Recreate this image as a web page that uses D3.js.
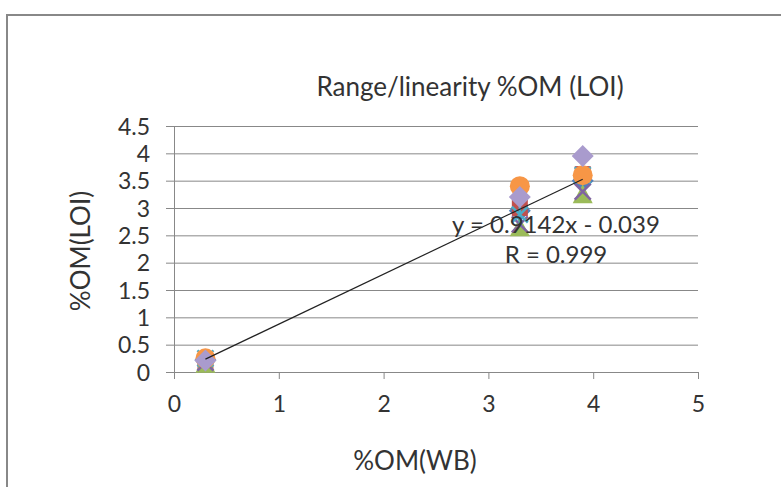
<!DOCTYPE html>
<html>
<head>
<meta charset="utf-8">
<script src="https://cdn.jsdelivr.net/npm/d3@7"></script>
<style>
body { margin: 0; background: #fff; }
text { font-family: Lato, "Open Sans", sans-serif; fill: #333; }
</style>
</head>
<body>
<div id="chart"></div>
<script>
var svgWidth = 781;
var svgHeight = 487;

// data
var xValues = [0.3, 3.3, 3.9];
var seriesBlue = [0.22, 2.95, 3.5];
var seriesRed = [0.2, 3.0, 3.62];
var seriesGreen = [0.15, 2.65, 3.25];
var seriesPurple = [0.17, 2.7, 3.3];
var seriesCyan = [0.25, 2.88, 3.6];
var seriesOrange = [0.25, 3.4, 3.6];
var seriesLavender = [0.21, 3.2, 3.95];
var xTicks = [0, 1, 2, 3, 4, 5];
var yTicks = [0, 0.5, 1, 1.5, 2, 2.5, 3, 3.5, 4, 4.5];
var slope = 0.9142, intercept = -0.039;

var series = [
    { vals: seriesBlue, color: "#4F81BD", shape: "diamond" },
    { vals: seriesRed, color: "#C0504D", shape: "square" },
    { vals: seriesGreen, color: "#9BBB59", shape: "triangle" },
    { vals: seriesPurple, color: "#8064A2", shape: "x" },
    { vals: seriesCyan, color: "#4BACC6", shape: "star" },
    { vals: seriesOrange, color: "#F79646", shape: "circle" },
    { vals: seriesLavender, color: "#A99BCD", shape: "diamond" }
];

var margin = { top: 126, left: 174 };
var chartWidth = 524;
var chartHeight = 246;

var svg = d3.select("#chart").append("svg")
    .attr("width", svgWidth)
    .attr("height", svgHeight);

// outer frame
svg.append("rect")
    .attr("x", 7).attr("y", 15)
    .attr("width", 800).attr("height", 500)
    .attr("fill", "white")
    .attr("stroke", "#888").attr("stroke-width", 2);

var x = d3.scaleLinear().domain([0, 5]).range([0, chartWidth]);
var y = d3.scaleLinear().domain([0, 4.5]).range([chartHeight, 0]);

var g = svg.append("g").attr("transform", `translate(${margin.left},${margin.top})`);

// gridlines
g.selectAll(".grid").data(yTicks.slice(1)).enter().append("line")
    .attr("x1", 0).attr("x2", chartWidth)
    .attr("y1", d => y(d) + 0.5).attr("y2", d => y(d) + 0.5)
    .attr("stroke", "#888").attr("stroke-width", 1);

var yAxis = g.append("g")
    .call(d3.axisLeft(y).tickValues(yTicks).tickSize(8).tickPadding(16).tickFormat(d3.format("")));
var xAxis = g.append("g").attr("transform", `translate(0,${chartHeight})`)
    .call(d3.axisBottom(x).tickValues(xTicks).tickSize(7).tickPadding(21).tickFormat(d3.format("")));

[xAxis, yAxis].forEach(a => {
    a.select(".domain").attr("stroke", "#888");
    a.selectAll(".tick line").attr("stroke", "#888");
    a.selectAll(".tick text").style("font-size", "23px").attr("fill", "#222");
});
yAxis.selectAll(".tick text").attr("dy", "0.36em");
xAxis.selectAll(".tick text").attr("dy", "0.5em");

// markers
function drawMarker(sel, shape, color) {
    var s = 10;
    if (shape === "circle") {
        sel.append("circle").attr("r", s).attr("fill", color);
    } else if (shape === "square") {
        sel.append("rect").attr("x", -8).attr("y", -8).attr("width", 16).attr("height", 16).attr("fill", color);
    } else if (shape === "diamond") {
        sel.append("path").attr("d", `M0,${-s - 1}L${s + 1},0L0,${s + 1}L${-s - 1},0Z`).attr("fill", color);
    } else if (shape === "triangle") {
        sel.append("path").attr("d", `M0,${-s}L${s},${s - 1}L${-s},${s - 1}Z`).attr("fill", color);
    } else if (shape === "x") {
        sel.append("path").attr("d", `M${-8},${-8}L8,8M8,${-8}L${-8},8`).attr("stroke", color).attr("stroke-width", 2.5);
    } else if (shape === "star") {
        sel.append("path").attr("d", `M${-8},${-8}L8,8M8,${-8}L${-8},8M0,${-9}L0,9`).attr("stroke", color).attr("stroke-width", 2.5);
    }
}

series.forEach(function (s) {
    g.selectAll(null).data(s.vals).enter().append("g")
        .attr("transform", (d, i) => `translate(${x(xValues[i])},${y(d)})`)
        .each(function () { drawMarker(d3.select(this), s.shape, s.color); });
});

// trendline
var xMin = d3.min(xValues), xMax = d3.max(xValues);
g.append("line")
    .attr("x1", x(xMin)).attr("y1", y(slope * xMin + intercept))
    .attr("x2", x(xMax)).attr("y2", y(slope * xMax + intercept))
    .attr("stroke", "#222").attr("stroke-width", 1.2);

svg.append("text").attr("x", 556).attr("y", 233).attr("text-anchor", "middle")
    .style("font-size", "24px").attr("fill", "#222").text("y = 0.9142x - 0.039");
svg.append("text").attr("x", 556).attr("y", 263).attr("text-anchor", "middle")
    .style("font-size", "24px").attr("fill", "#222").text("R = 0.999");

// titles
svg.append("text").attr("x", 470).attr("y", 96).attr("text-anchor", "middle")
    .style("font-size", "26px").attr("fill", "#222").text("Range/linearity %OM (LOI)");
svg.append("text").attr("x", 415).attr("y", 470).attr("text-anchor", "middle")
    .style("font-size", "26px").attr("fill", "#222").text("%OM(WB)");
svg.append("text").attr("transform", "translate(90,251) rotate(-90)").attr("text-anchor", "middle")
    .style("font-size", "26px").attr("fill", "#222").text("%OM(LOI)");
</script>
</body>
</html>
